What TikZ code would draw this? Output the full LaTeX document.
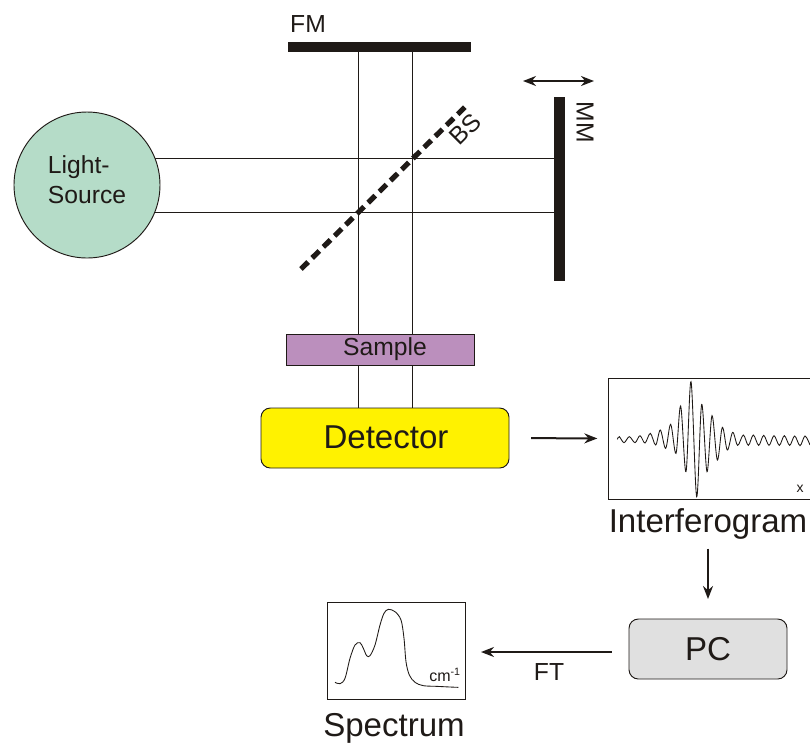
\documentclass[tikz,border=0pt]{standalone}
\usepackage{fontspec}
\setmainfont{Liberation Sans}
\usetikzlibrary{arrows.meta}
\definecolor{ink}{HTML}{1F1A17}
\definecolor{srcfill}{HTML}{B5DCC8}
\definecolor{samplefill}{HTML}{BB8FBD}
\definecolor{pcfill}{HTML}{E0E0E0}
\newcommand{\px}[1]{\fontsize{#1*3/4}{#1*3/4}\selectfont}
\tikzset{
  x=0.75pt,y=-0.75pt,
  thinline/.style={draw=ink,line width=0.7pt},
  flow/.style={draw=ink,line width=1.5pt,-{Stealth[length=13pt*0.75,width=10pt*0.75]}},
  wave/.style={draw=ink,line width=0.65pt,smooth,tension=0.55},
  mirror/.style={fill=ink,draw=none,inner sep=0pt,outer sep=0pt},
  frameb/.style={draw=ink,line width=0.7pt,fill=white,inner sep=0pt,outer sep=0pt},
  lab/.style={text=ink,inner sep=0pt,outer sep=0pt,anchor=center},
  sm/.style={lab,font=\fontsize{18.5pt}{18.5pt}\selectfont},
  lg/.style={lab,font=\fontsize{24.8pt}{24.8pt}\selectfont},
}
\begin{document}
\begin{tikzpicture}
\useasboundingbox (0,0) rectangle (810,744);
% beams (drawn first)
\coordinate (v1top) at (358,50);
\coordinate (v2top) at (412,50);
\coordinate (v1bot) at (358,410);
\coordinate (v2bot) at (412,410);
\coordinate (h1l) at (150,158);
\coordinate (h2l) at (150,212);
\coordinate (h1r) at (556,158);
\coordinate (h2r) at (556,212);
\draw[thinline] (v1top) -- (v1bot);
\draw[thinline] (v2top) -- (v2bot);
\draw[thinline] (h1l) -- (h1r);
\draw[thinline] (h2l) -- (h2r);
% source
\node[circle,draw=ink,line width=0.7pt,fill=srcfill,minimum size=146*0.75pt,inner sep=0pt,outer sep=0pt] (src) at (87,185) {};
\node[sm,align=left] (srclab) at (87,180) {Light-\\[4pt]Source};
% mirrors
\node[mirror,minimum width=183*0.75pt,minimum height=10*0.75pt] (fm) at (379.5,47) {};
\node[sm] (fmlab) at (308,24) {FM};
\node[mirror,minimum width=11*0.75pt,minimum height=184*0.75pt] (mm) at (559.5,189) {};
\node[sm,rotate=-90] (mmlab) at (585,122) {MM};
\coordinate (mvl) at (523,81);
\coordinate (mvr) at (594,81);
\draw[draw=ink,line width=1.5pt,{Stealth[length=13pt*0.75,width=10pt*0.75]}-{Stealth[length=13pt*0.75,width=10pt*0.75]}] (mvl) -- (mvr);
% beam splitter
\coordinate (bsa) at (301,269);
\coordinate (bsb) at (465,107);
\draw[draw=ink,line width=3.9pt,dash pattern=on 7.5pt off 4.3pt] (bsa) -- (bsb);
\node[sm,rotate=45] (bslab) at (465,129) {BS};
% sample and detector
\node[draw=ink,line width=0.7pt,fill=samplefill,minimum width=188*0.75pt,minimum height=31*0.75pt,inner sep=0pt,outer sep=0pt] (sample) at (380,349.5) {};
\node[sm] (samplelab) at (385,349.5) {Sample};
\node[draw=ink,line width=0.7pt,fill=yellow,rounded corners=7pt,minimum width=248*0.75pt,minimum height=60*0.75pt,inner sep=0pt,outer sep=0pt] (det) at (385,438) {};
\node[lg] (detlab) at (386,437) {Detector};
% interferogram
\node[frameb,minimum width=204*0.75pt,minimum height=121*0.75pt] (igram) at (710,438.5) {};
\begin{scope}[shift={(600,370)},x=0.25pt,y=-0.25pt]
\draw[wave] plot coordinates {(52,208)(58,200)(72,218)(88,200)(105,218)(120,197)(135,219)(151,190)(167,225)(181,180)(197,235)(212,163)(228,250)(242,108)(258,305)(273,35)(290,380)(305,103)(321,305)(336,137)(352,270)(367,172)(382,240)(398,187)(413,226)(430,195)(445,226)(460,195)(476,226)(491,196)(507,226)(522,197)(538,226)(553,197)(569,226)(584,198)(600,227)(615,198)(630,225)};
\end{scope}
\node[lab,font=\fontsize{10.5pt}{10.5pt}\selectfont] (xlab) at (800,489) {x};
\node[lg] (igramlab) at (708,524) {Interferogram};
% PC
\node[draw=ink,line width=0.7pt,fill=pcfill,rounded corners=7pt,minimum width=158*0.75pt,minimum height=60*0.75pt,inner sep=0pt,outer sep=0pt] (pc) at (708,649) {};
\node[lg] (pclab) at (708,649) {PC};
% spectrum
\node[frameb,minimum width=138*0.75pt,minimum height=97*0.75pt] (spec) at (396,650.5) {};
\begin{scope}[shift={(320,595)},x=0.25pt,y=-0.25pt]
\draw[wave] plot coordinates {(45,262)(60,266)(75,250)(90,190)(105,150)(120,143)(130,160)(140,182)(150,182)(165,150)(180,90)(192,55)(205,43)(225,50)(243,75)(252,130)(258,200)(268,240)(285,262)(310,272)(350,274)(390,276)(415,277)};
\end{scope}
\node[lab,font=\fontsize{12pt}{12pt}\selectfont] (cmlab) at (445,675) {cm\textsuperscript{-1}};
\node[lg] (speclab) at (394,728) {Spectrum};
% connectors
\coordinate (dout) at (det.east);
\draw[flow,shorten <=16.5pt,shorten >=8pt] (det.east) -- (igram.west);
\draw[flow,shorten <=7pt,shorten >=15pt] (igramlab.south) -- (pc.north);
\coordinate (pcout) at (629,652);
\coordinate (specin) at (465,652);
\draw[flow,shorten <=13pt,shorten >=12pt] (pcout) -- (specin);
\node[sm] (ftlab) at (549,672) {FT};
\end{tikzpicture}
\end{document}
